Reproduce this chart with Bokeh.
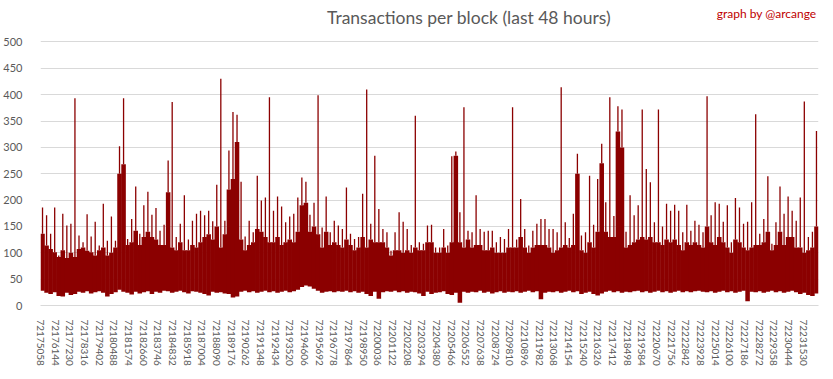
import numpy as np
from bokeh.plotting import figure
from bokeh.models import Range1d, FixedTicker, NumeralTickFormatter, Label, ColumnDataSource
from bokeh.embed import file_html
from bokeh.resources import INLINE

# ---------------- data ----------------
FIRST_BLOCK = 72175058
TOTAL_BLOCKS = 57600          # 48 hours of 3-second blocks
BIN_SIZE = 300                # blocks summarised per bar

# dense top of the transaction count inside each group of 300 blocks
tx_top = [
    136, 114, 107, 101, 92, 105, 90, 100, 92, 107,
    110, 104, 101, 95, 105, 110, 95, 100, 110, 250,
    268, 115, 120, 142, 115, 130, 140, 130, 125, 115,
    115,
    215, 110, 105, 120, 105, 105, 115, 110, 120, 130,
    135, 125, 150, 110, 135, 220, 240, 310, 125, 105,
    115, 120, 145, 140, 130, 120, 120, 130, 115, 120,
    125, 120,
    140, 190, 195, 140, 150, 135, 110, 140, 115, 120,
    115, 110, 125, 115, 105, 110, 130, 110, 125, 120,
    120, 120, 110, 95, 105, 105, 100, 105, 100, 110,
    105, 105,
    120, 120, 100, 100, 110, 100, 120, 284, 120, 110,
    125, 110, 115, 115, 105, 105, 110, 100, 100, 100,
    110, 110, 110, 130, 110, 100, 110, 115, 115, 115,
    110, 100,
    105, 110, 115, 110, 115, 250, 105, 100, 120, 110,
    140, 270, 140, 130, 130, 330, 300, 110, 115, 120,
    125, 130, 125, 130, 120, 120, 115, 125, 120, 125,
    115, 105,
    120, 115, 120, 115, 110, 150, 120, 115, 130, 120,
    110, 100, 125, 120, 110, 105, 110, 115, 115, 120,
    140, 105, 115, 140, 115, 130, 130, 110, 110, 100,
    105, 110, 150,
]

# single-block maximum inside each group
tx_peak = [
    186, 171, 136, 186, 95, 174, 152, 155, 393, 133,
    120, 173, 131, 159, 114, 193, 123, 169, 123, 302,
    393, 126, 164, 226, 136, 190, 216, 172, 185, 142,
    153,
    275, 386, 130, 155, 209, 125, 161, 174, 180, 171,
    180, 160, 229, 430, 161, 294, 367, 362, 235, 131,
    161, 139, 246, 199, 205, 395, 180, 207, 188, 158,
    169, 174,
    205, 243, 235, 172, 195, 399, 148, 207, 139, 161,
    152, 145, 224, 136, 126, 130, 212, 410, 155, 284,
    183, 145, 139, 104, 139, 177, 159, 145, 115, 360,
    120, 117,
    152, 153, 110, 110, 145, 114, 283, 292, 177, 376,
    142, 139, 209, 145, 140, 142, 142, 120, 130, 126,
    145, 376, 125, 202, 145, 114, 142, 155, 164, 164,
    145, 145,
    139, 414, 158, 128, 174, 288, 133, 139, 246, 153,
    240, 307, 196, 395, 170, 378, 372, 140, 209, 171,
    190, 372, 259, 234, 158, 372, 150, 193, 180, 191,
    180, 139,
    191, 142, 161, 153, 139, 397, 171, 196, 193, 159,
    190, 120, 204, 186, 155, 159, 196, 363, 136, 164,
    245, 117, 158, 226, 174, 207, 180, 161, 205, 387,
    130, 140, 331,
]

# single-block minimum inside each group
tx_low = [
    28, 24, 22, 25, 18, 17, 24, 20, 22, 26,
    24, 27, 23, 25, 27, 24, 17, 22, 25, 30,
    26, 24, 21, 26, 23, 25, 27, 22, 26, 24, 28,
    27, 24, 26, 28, 25, 23, 27, 26, 24, 22,
    19, 26, 24, 25, 23, 22, 15, 17, 26, 28,
    25, 27, 24, 26, 28, 25, 27, 24, 26, 28, 25, 27,
    30, 35, 38, 36, 32, 28, 24, 26, 27, 25,
    27, 26, 28, 25, 27, 24, 26, 22, 18, 26,
    13, 25, 27, 26, 28, 25, 27, 24, 26, 25, 23, 18,
    26, 22, 24, 25, 27, 22, 20, 24, 5, 26,
    24, 26, 25, 28, 24, 26, 23, 25, 27, 24,
    26, 25, 27, 24, 26, 28, 25, 27, 12, 24, 26, 25,
    27, 24, 26, 28, 25, 27, 22, 24, 26, 22,
    19, 23, 26, 28, 25, 27, 24, 26, 25, 27,
    28, 25, 27, 24, 26, 28, 25, 27, 24, 26, 28, 25,
    27, 25, 27, 28, 26, 25, 27, 24, 26, 28,
    25, 27, 24, 26, 28, 8, 26, 25, 27, 24,
    26, 28, 25, 27, 24, 26, 28, 25, 22, 24, 20, 18, 23,
]

x_tick_blocks = [
    72175058, 72176144, 72177230, 72178316, 72179402, 72180488, 72181574,
    72182660, 72183746, 72184832, 72185918, 72187004, 72188090, 72189176,
    72190262, 72191348, 72192434, 72193520, 72194606, 72195692, 72196778,
    72197864, 72198950, 72200036, 72201122, 72202208, 72203294, 72204380,
    72205466, 72206552, 72207638, 72208724, 72209810, 72210896, 72211982,
    72213068, 72214154, 72215240, 72216326, 72217412, 72218498, 72219584,
    72220670, 72221756, 72222842, 72223928, 72225014, 72226100, 72227186,
    72228272, 72229358, 72230444, 72231530,
]
y_ticks = [0, 50, 100, 150, 200, 250, 300, 350, 400, 450, 500]

TITLE = "Transactions per block (last 48 hours)"
CREDIT = "graph by @arcange"

# ---------------- build ----------------
RED = "#8B0000"
GRID = "#D9D9D9"
TXT = "#595959"
FONT = "Lato"

FRAME_W, FRAME_H = 778, 305
Y_TOP = 500 + 41.5 * 500 / 263.8     # headroom above 500 for the titles

n = len(tx_top)
centers = FIRST_BLOCK - 0.5 + BIN_SIZE * (np.arange(n) + 0.5)
src = ColumnDataSource(dict(x=centers, low=tx_low, top=tx_top, peak=tx_peak))

x0 = FIRST_BLOCK - 0.5
x1 = FIRST_BLOCK + TOTAL_BLOCKS - 0.5
p = figure(
    frame_width=FRAME_W, frame_height=FRAME_H,
    min_border_left=32, min_border_right=7, min_border_top=0, min_border_bottom=58,
    x_range=Range1d(x0, x1), y_range=Range1d(0, Y_TOP),
    output_backend="svg", toolbar_location=None,
)
p.outline_line_color = None
p.background_fill_color = "white"
p.border_fill_color = "white"

p.vbar(x="x", width=BIN_SIZE * 1.12, bottom="low", top="top", source=src,
       fill_color=RED, line_color=None)
p.segment(x0="x", y0="top", x1="x", y1="peak", source=src,
          line_color=RED, line_width=1.3)

# axes
p.xaxis.ticker = FixedTicker(ticks=x_tick_blocks)
p.xaxis.formatter = NumeralTickFormatter(format="0")
p.xaxis.major_label_orientation = "vertical"
p.xaxis.axis_line_color = GRID
p.xaxis.major_tick_line_color = None
p.xaxis.minor_tick_line_color = None
p.xaxis.major_label_standoff = 8
p.xaxis.major_label_text_font = FONT
p.xaxis.major_label_text_font_size = "10px"
p.xaxis.major_label_text_color = TXT

p.yaxis.ticker = FixedTicker(ticks=y_ticks)
p.yaxis.axis_line_color = None
p.yaxis.major_tick_line_color = None
p.yaxis.minor_tick_line_color = None
p.yaxis.major_label_standoff = 12
p.yaxis.major_label_text_font = FONT
p.yaxis.major_label_text_font_size = "11px"
p.yaxis.major_label_text_color = TXT

p.xgrid.visible = False
p.ygrid.grid_line_color = GRID
p.ygrid.grid_line_width = 1

# titles (placed in the headroom above the 500 gridline)
px_to_x = (x1 - x0) / FRAME_W
px_to_y = Y_TOP / FRAME_H
p.add_layout(Label(x=x0 + 428.5 * px_to_x, y=Y_TOP - 17 * px_to_y,
                   text=TITLE, text_align="center", text_baseline="middle",
                   text_font=FONT, text_font_size="17.5px", text_color=TXT))
p.add_layout(Label(x=x0 + 776 * px_to_x, y=Y_TOP - 13 * px_to_y,
                   text=CREDIT, text_align="right", text_baseline="middle",
                   text_font=FONT, text_font_size="12px", text_color="#C00000"))

open("out.html", "w").write(file_html(p, INLINE))
